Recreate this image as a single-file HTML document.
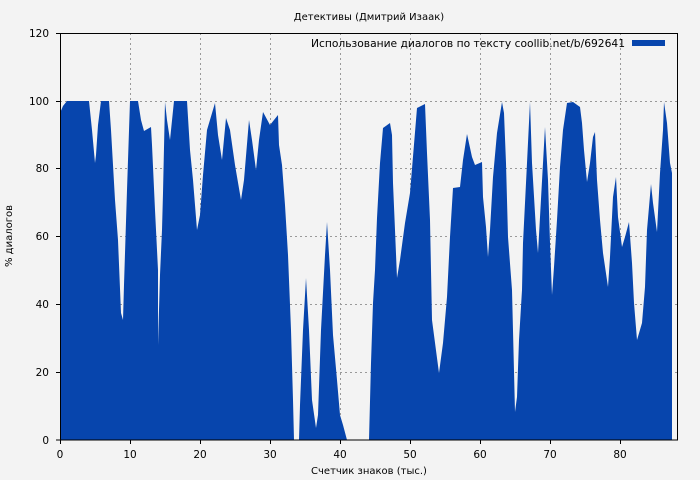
<!DOCTYPE html>
<html><head><meta charset="utf-8"><style>
html,body{margin:0;padding:0;background:#f3f3f3;}
svg{display:block;font-family:"DejaVu Sans","Liberation Sans",sans-serif;}
</style></head><body>
<svg width="700" height="480" viewBox="0 0 700 480" xmlns="http://www.w3.org/2000/svg">
<rect width="700" height="480" fill="#f3f3f3"/>
<text x="369" y="20" font-size="10" text-anchor="middle" fill="#000">Детективы (Дмитрий Изаак)</text>
<g stroke="#999" stroke-dasharray="2,3" stroke-width="1">
<line x1="130.5" y1="33" x2="130.5" y2="440"/><line x1="200.5" y1="33" x2="200.5" y2="440"/>
<line x1="270.5" y1="33" x2="270.5" y2="440"/><line x1="340.5" y1="33" x2="340.5" y2="440"/>
<line x1="410.5" y1="33" x2="410.5" y2="440"/><line x1="480.5" y1="33" x2="480.5" y2="440"/>
<line x1="550.5" y1="33" x2="550.5" y2="440"/><line x1="620.5" y1="33" x2="620.5" y2="440"/>
<line x1="60" y1="372.5" x2="678" y2="372.5"/><line x1="60" y1="304.5" x2="678" y2="304.5"/>
<line x1="60" y1="236.5" x2="678" y2="236.5"/><line x1="60" y1="168.5" x2="678" y2="168.5"/>
<line x1="60" y1="101.5" x2="678" y2="101.5"/>
</g>
<polygon fill="#0745ad" points="60,440 60,113 63,106 67,101 89,101 92,130 95,163 96,155 98,125 101,101 109,101 111,130 113,165 115,200 118,240 121,313 123,320 124,285 127,190 130,101 138,101 141,120 144,131 151,127 152,145 155,210 158,270 158,345 160,275 162,230 163,193 165,102 167,120 170,140 174,101 187,101 190,150 193,180 197,230 200,215 203,175 207,130 215,103 218,135 222,160 226,118 230,130 235,165 241,200 244,180 249,120 252,140 256,170 259,140 263,112 270,125 278,115 279,145 282,165 285,205 288,255 291,330 293,400 294,440 299,440 300,405 303,330 306,278 309,330 312,400 316,428 318,415 321,330 325,255 327,222 330,270 333,335 337,380 340,415 343,425 347,440 369,440 369,440 371,363 373,303 375,270 377,218 380,163 383,128 390,123 392,135 393,183 395,230 397,278 400,260 405,223 410,193 417,108 425,104 427,153 430,220 432,320 437,358 439,373 443,343 447,297 450,237 453,188 460,187 463,160 467,134 472,157 475,165 482,162 483,197 486,227 488,257 490,230 493,177 497,133 502,102 504,113 506,163 508,237 512,290 515,412 517,397 519,340 522,290 523,243 527,163 530,102 532,163 536,230 538,253 540,217 543,163 545,127 548,180 550,243 552,295 554,267 557,220 560,167 563,130 567,103 573,102 580,107 582,123 584,150 587,182 590,163 593,137 595,132 597,180 600,220 603,253 608,287 610,257 613,197 616,177 618,217 622,247 625,237 629,222 632,263 634,303 637,340 642,323 645,287 647,230 651,184 653,203 657,232 660,173 663,130 664,102 667,123 670,163 672,173 672,440"/>
<rect x="60.5" y="33.5" width="617" height="406.5" fill="none" stroke="#000" stroke-width="1"/>
<g stroke="#000">
<line x1="60.5" y1="440" x2="60.5" y2="444"/><line x1="130.5" y1="440" x2="130.5" y2="444"/>
<line x1="200.5" y1="440" x2="200.5" y2="444"/><line x1="270.5" y1="440" x2="270.5" y2="444"/>
<line x1="340.5" y1="440" x2="340.5" y2="444"/><line x1="410.5" y1="440" x2="410.5" y2="444"/>
<line x1="480.5" y1="440" x2="480.5" y2="444"/><line x1="550.5" y1="440" x2="550.5" y2="444"/>
<line x1="620.5" y1="440" x2="620.5" y2="444"/>
<line x1="56" y1="440" x2="60" y2="440"/><line x1="56" y1="372.5" x2="60" y2="372.5"/>
<line x1="56" y1="304.5" x2="60" y2="304.5"/><line x1="56" y1="236.5" x2="60" y2="236.5"/>
<line x1="56" y1="168.5" x2="60" y2="168.5"/><line x1="56" y1="101.5" x2="60" y2="101.5"/>
<line x1="56" y1="33.5" x2="60" y2="33.5"/>
</g>
<g font-size="10.5" fill="#000" text-anchor="middle">
<text x="60" y="458">0</text><text x="130" y="458">10</text><text x="200" y="458">20</text>
<text x="270" y="458">30</text><text x="340" y="458">40</text><text x="410" y="458">50</text>
<text x="480" y="458">60</text><text x="550" y="458">70</text><text x="620" y="458">80</text>
</g>
<g font-size="10.5" fill="#000" text-anchor="end">
<text x="49" y="444">0</text><text x="49" y="376">20</text><text x="49" y="308">40</text>
<text x="49" y="240">60</text><text x="49" y="172">80</text><text x="49" y="105">100</text>
<text x="49" y="37">120</text>
</g>
<text x="369" y="474" font-size="10" text-anchor="middle">Счетчик знаков (тыс.)</text>
<text x="12" y="236" font-size="10" text-anchor="middle" transform="rotate(-90 12 236)">% диалогов</text>
<text x="625" y="47" font-size="10.7" text-anchor="end">Использование диалогов по тексту coollib.net/b/692641</text>
<rect x="632" y="40" width="33" height="6" fill="#0745ad"/>
</svg>
</body></html>
